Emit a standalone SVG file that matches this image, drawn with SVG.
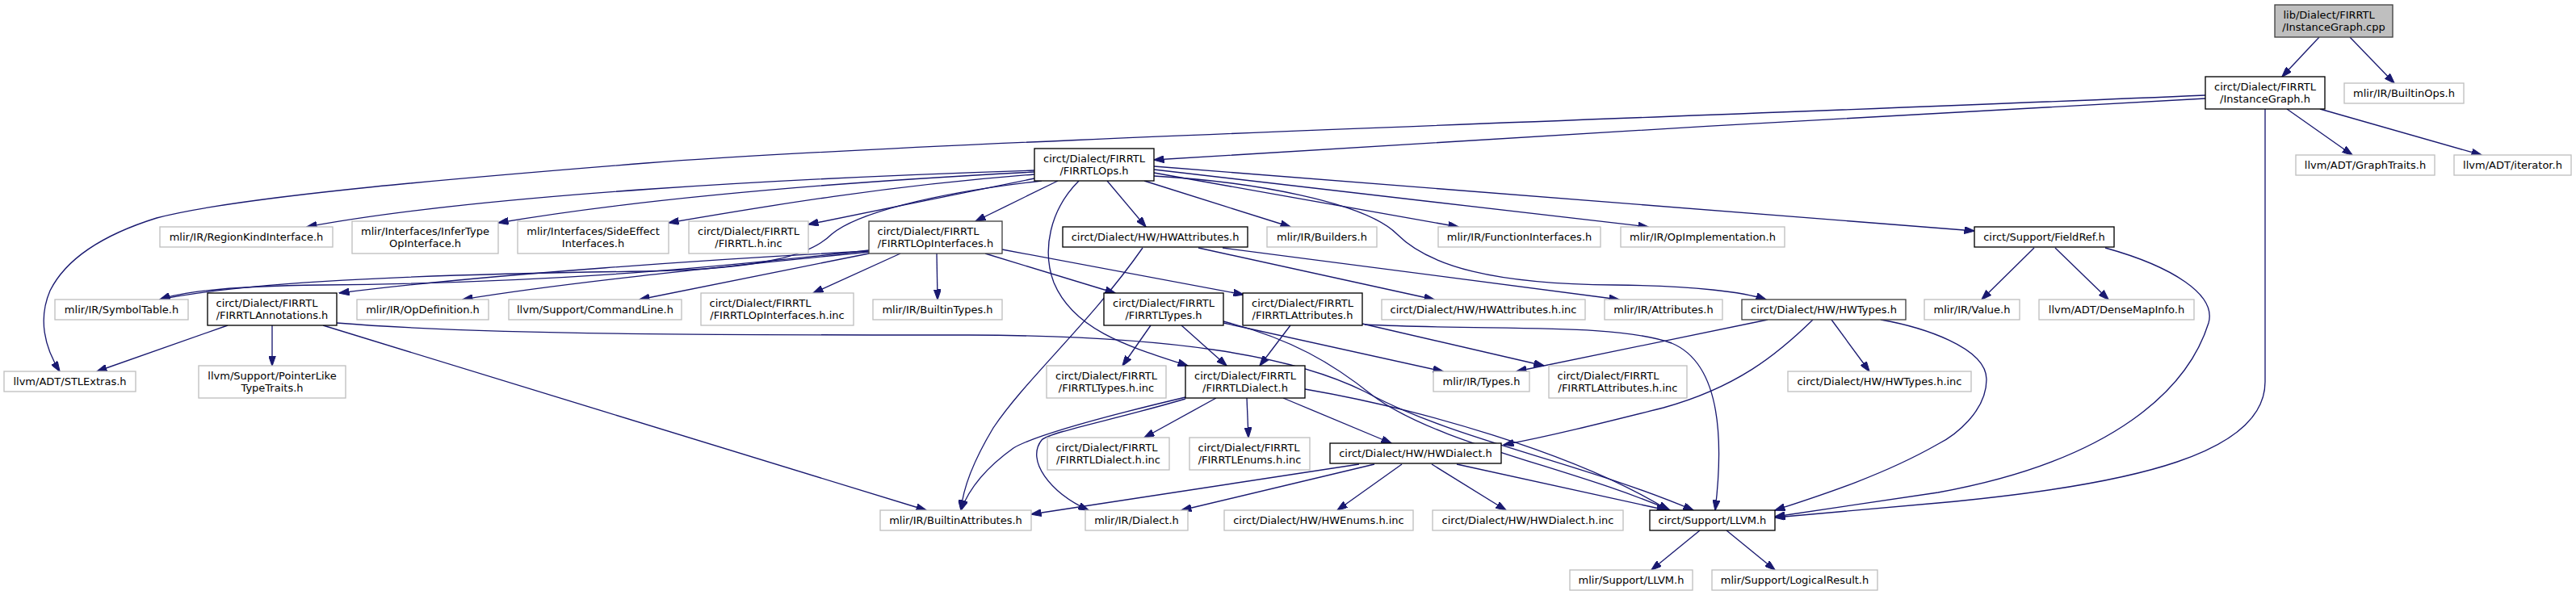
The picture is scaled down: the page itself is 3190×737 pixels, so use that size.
<svg xmlns="http://www.w3.org/2000/svg" width="3190" height="737" viewBox="0 0 3190 737">
<defs>
<style>
rect{stroke-width:1.33}
.g{fill:#fff;stroke:#bfbfbf}
.k{fill:#fff;stroke:#000}
.d{fill:#fff;stroke:#404040}
.r{fill:#bfbfbf;stroke:#404040}
text{font-family:"DejaVu Sans","Liberation Sans",sans-serif;font-size:13px;fill:#000}
.m{text-anchor:middle}
.e path{fill:none;stroke:#191970;stroke-width:1.33;marker-end:url(#a)}
</style>
<marker id="a" viewBox="0 0 13 9" refX="12.5" refY="4.5" markerWidth="13" markerHeight="9" markerUnits="userSpaceOnUse" orient="auto"><path d="M0,0 L13,4.5 L0,9 z" fill="#191970" stroke="#191970" stroke-width="1"/></marker>
</defs>
<rect x="0" y="0" width="3190" height="737" fill="#fff"/>
<g class="e" id="edges">
<path d="M2872,46 L2826,95"/>
<path d="M2910,46 L2965,103"/>
<path d="M2731,122 C2400,139 1700,180 1429,198"/>
<path d="M2731,118 C2100,145 1150,175 800,202 C600,218 300,242 194,270 C130,290 82,320 62,360 C47,395 55,430 74,460"/>
<path d="M2832,135 L2913,192"/>
<path d="M2873,135 L3073,192"/>
<path d="M2805,135 L2805,473 C2805,560 2650,600 2400,623 C2320,630 2250,636 2198,641"/>
<path d="M1281,211 C1000,220 600,240 380,281"/>
<path d="M1281,213 C1050,225 800,245 617,276"/>
<path d="M1281,216 C1100,230 950,255 828,276"/>
<path d="M1281,221 L1001,278"/>
<path d="M1290,224 C1150,240 1060,265 1030,290 C1005,315 950,333 800,336 C500,340 300,350 198,371"/>
<path d="M1310,224 L1208,274"/>
<path d="M1371,224 L1419,281"/>
<path d="M1417,224 L1598,281"/>
<path d="M1429,214 L1806,281"/>
<path d="M1429,210 L2041,281"/>
<path d="M1429,206 L2445,286"/>
<path d="M1429,218 C1550,225 1690,250 1730,290 C1770,330 1850,352 2000,353 C2100,354 2160,362 2187,371"/>
<path d="M1336,224 C1300,260 1290,310 1305,350 C1330,410 1400,430 1471,453"/>
<path d="M1076,310 C900,330 700,350 400,353 C300,354 230,360 198,371"/>
<path d="M1076,311 C900,320 600,340 420,363"/>
<path d="M1076,312 C900,330 700,350 573,371"/>
<path d="M1076,314 L792,371"/>
<path d="M1115,314 L1007,363"/>
<path d="M1160,314 L1161,371"/>
<path d="M1220,314 L1381,363"/>
<path d="M1241,309 L1540,365"/>
<path d="M1415,307 C1350,400 1270,470 1230,530 C1200,580 1192,610 1190,632"/>
<path d="M1484,307 L1776,371"/>
<path d="M1514,307 L2005,371"/>
<path d="M2519,307 L2454,371"/>
<path d="M2545,307 L2611,371"/>
<path d="M2607,307 C2690,330 2745,365 2735,400 C2710,480 2620,570 2400,610 C2320,622 2250,632 2198,640"/>
<path d="M2329,396 C2380,405 2460,430 2460,470 C2460,510 2420,540 2400,550 C2330,590 2250,615 2198,632"/>
<path d="M2189,396 L1878,460"/>
<path d="M2245,396 C2200,440 2150,480 2060,505 C1980,525 1920,540 1862,551"/>
<path d="M2268,396 L2315,460"/>
<path d="M1425,403 L1390,453"/>
<path d="M1463,403 L1519,453"/>
<path d="M1598,403 L1560,453"/>
<path d="M1515,400 L1787,460"/>
<path d="M1687,401 L1912,453"/>
<path d="M1690,402 C1850,410 2000,400 2070,425 C2130,450 2135,540 2124,632"/>
<path d="M1515,398 C1600,420 1650,450 1700,490 C1780,550 1950,580 2068,632"/>
<path d="M417,400 C600,415 900,415 1200,415 C1450,416 1600,440 1690,485 C1800,545 1950,570 2097,632"/>
<path d="M1616,482 C1750,505 1950,560 2066,632"/>
<path d="M1804,575 L2064,632"/>
<path d="M1736,575 L1656,632"/>
<path d="M1773,575 L1865,632"/>
<path d="M1683,575 L1277,637"/>
<path d="M1702,575 L1463,632"/>
<path d="M1468,492 C1350,520 1280,540 1255,555 C1220,580 1200,605 1190,632"/>
<path d="M1468,494 C1380,520 1300,535 1290,545 C1270,570 1300,610 1348,632"/>
<path d="M1506,493 L1417,542"/>
<path d="M1544,493 L1546,542"/>
<path d="M1589,493 L1723,549"/>
<path d="M400,403 L1147,632"/>
<path d="M282,403 L120,460"/>
<path d="M337,403 L337,453"/>
<path d="M2105,657 L2045,706"/>
<path d="M2138,657 L2198,706"/>
</g>
<g id="n0"><rect class="r" x="2817" y="6" width="146" height="40"/><text x="2827.5" y="22.8">lib/Dialect/FIRRTL</text><text class="m" x="2890" y="37.6">/InstanceGraph.cpp</text></g>
<g id="n1"><rect class="k" x="2731" y="95" width="148" height="40"/><text class="m" x="2805" y="111.8">circt/Dialect/FIRRTL</text><text class="m" x="2805" y="126.6">/InstanceGraph.h</text></g>
<g id="n2"><rect class="g" x="2903" y="103" width="148" height="25"/><text class="m" x="2977" y="119.5">mlir/IR/BuiltinOps.h</text></g>
<g id="n3"><rect class="k" x="1281" y="184" width="148" height="40"/><text class="m" x="1355" y="200.8">circt/Dialect/FIRRTL</text><text class="m" x="1355" y="215.6">/FIRRTLOps.h</text></g>
<g id="n4"><rect class="g" x="2843" y="192" width="172" height="25"/><text class="m" x="2929" y="208.5">llvm/ADT/GraphTraits.h</text></g>
<g id="n5"><rect class="g" x="3039" y="192" width="145" height="25"/><text class="m" x="3111.5" y="208.5">llvm/ADT/iterator.h</text></g>
<g id="n6"><rect class="g" x="198" y="281" width="214" height="25"/><text class="m" x="305" y="297.5">mlir/IR/RegionKindInterface.h</text></g>
<g id="n7"><rect class="g" x="436" y="274" width="181" height="40"/><text class="m" x="526.5" y="290.8">mlir/Interfaces/InferType</text><text class="m" x="526.5" y="305.6">OpInterface.h</text></g>
<g id="n8"><rect class="g" x="641" y="274" width="187" height="40"/><text class="m" x="734.5" y="290.8">mlir/Interfaces/SideEffect</text><text class="m" x="734.5" y="305.6">Interfaces.h</text></g>
<g id="n9"><rect class="g" x="853" y="274" width="148" height="40"/><text class="m" x="927" y="290.8">circt/Dialect/FIRRTL</text><text class="m" x="927" y="305.6">/FIRRTL.h.inc</text></g>
<g id="n10"><rect class="d" x="1076" y="274" width="165" height="40"/><text x="1086.5" y="290.8">circt/Dialect/FIRRTL</text><text class="m" x="1158.5" y="305.6">/FIRRTLOpInterfaces.h</text></g>
<g id="n11"><rect class="k" x="1316" y="281" width="229" height="25"/><text class="m" x="1430.5" y="297.5">circt/Dialect/HW/HWAttributes.h</text></g>
<g id="n12"><rect class="g" x="1569" y="281" width="136" height="25"/><text class="m" x="1637" y="297.5">mlir/IR/Builders.h</text></g>
<g id="n13"><rect class="g" x="1781" y="281" width="201" height="25"/><text class="m" x="1881.5" y="297.5">mlir/IR/FunctionInterfaces.h</text></g>
<g id="n14"><rect class="g" x="2007" y="281" width="203" height="25"/><text class="m" x="2108.5" y="297.5">mlir/IR/OpImplementation.h</text></g>
<g id="n15"><rect class="k" x="2445" y="281" width="173" height="25"/><text class="m" x="2531.5" y="297.5">circt/Support/FieldRef.h</text></g>
<g id="n16"><rect class="g" x="68" y="371" width="165" height="25"/><text class="m" x="150.5" y="387.5">mlir/IR/SymbolTable.h</text></g>
<g id="n17"><rect class="k" x="257" y="363" width="160" height="40"/><text x="267.5" y="379.8">circt/Dialect/FIRRTL</text><text class="m" x="337" y="394.6">/FIRRTLAnnotations.h</text></g>
<g id="n18"><rect class="g" x="442" y="371" width="163" height="25"/><text class="m" x="523.5" y="387.5">mlir/IR/OpDefinition.h</text></g>
<g id="n19"><rect class="g" x="630" y="371" width="214" height="25"/><text class="m" x="737" y="387.5">llvm/Support/CommandLine.h</text></g>
<g id="n20"><rect class="g" x="868" y="363" width="189" height="40"/><text x="878.5" y="379.8">circt/Dialect/FIRRTL</text><text class="m" x="962.5" y="394.6">/FIRRTLOpInterfaces.h.inc</text></g>
<g id="n21"><rect class="g" x="1081" y="371" width="160" height="25"/><text class="m" x="1161" y="387.5">mlir/IR/BuiltinTypes.h</text></g>
<g id="n22"><rect class="k" x="1367" y="363" width="148" height="40"/><text class="m" x="1441" y="379.8">circt/Dialect/FIRRTL</text><text class="m" x="1441" y="394.6">/FIRRTLTypes.h</text></g>
<g id="n23"><rect class="k" x="1539" y="363" width="148" height="40"/><text class="m" x="1613" y="379.8">circt/Dialect/FIRRTL</text><text class="m" x="1613" y="394.6">/FIRRTLAttributes.h</text></g>
<g id="n24"><rect class="g" x="1711" y="371" width="252" height="25"/><text class="m" x="1837" y="387.5">circt/Dialect/HW/HWAttributes.h.inc</text></g>
<g id="n25"><rect class="g" x="1987" y="371" width="146" height="25"/><text class="m" x="2060" y="387.5">mlir/IR/Attributes.h</text></g>
<g id="n26"><rect class="d" x="2157" y="371" width="203" height="25"/><text class="m" x="2258.5" y="387.5">circt/Dialect/HW/HWTypes.h</text></g>
<g id="n27"><rect class="g" x="2383" y="371" width="118" height="25"/><text class="m" x="2442" y="387.5">mlir/IR/Value.h</text></g>
<g id="n28"><rect class="g" x="2525" y="371" width="192" height="25"/><text class="m" x="2621" y="387.5">llvm/ADT/DenseMapInfo.h</text></g>
<g id="n29"><rect class="g" x="5" y="460" width="163" height="25"/><text class="m" x="86.5" y="476.5">llvm/ADT/STLExtras.h</text></g>
<g id="n30"><rect class="g" x="246" y="453" width="182" height="40"/><text class="m" x="337" y="469.8">llvm/Support/PointerLike</text><text class="m" x="337" y="484.6">TypeTraits.h</text></g>
<g id="n31"><rect class="g" x="1296" y="453" width="148" height="40"/><text class="m" x="1370" y="469.8">circt/Dialect/FIRRTL</text><text class="m" x="1370" y="484.6">/FIRRTLTypes.h.inc</text></g>
<g id="n32"><rect class="k" x="1468" y="453" width="148" height="40"/><text class="m" x="1542" y="469.8">circt/Dialect/FIRRTL</text><text class="m" x="1542" y="484.6">/FIRRTLDialect.h</text></g>
<g id="n33"><rect class="g" x="1775" y="460" width="119" height="25"/><text class="m" x="1834.5" y="476.5">mlir/IR/Types.h</text></g>
<g id="n34"><rect class="g" x="1918" y="453" width="171" height="40"/><text x="1928.5" y="469.8">circt/Dialect/FIRRTL</text><text class="m" x="2003.5" y="484.6">/FIRRTLAttributes.h.inc</text></g>
<g id="n35"><rect class="g" x="2214" y="460" width="227" height="25"/><text class="m" x="2327.5" y="476.5">circt/Dialect/HW/HWTypes.h.inc</text></g>
<g id="n36"><rect class="g" x="1297" y="542" width="151" height="40"/><text x="1307.5" y="558.8">circt/Dialect/FIRRTL</text><text class="m" x="1372.5" y="573.6">/FIRRTLDialect.h.inc</text></g>
<g id="n37"><rect class="g" x="1473" y="542" width="149" height="40"/><text x="1483.5" y="558.8">circt/Dialect/FIRRTL</text><text class="m" x="1547.5" y="573.6">/FIRRTLEnums.h.inc</text></g>
<g id="n38"><rect class="k" x="1647" y="549" width="212" height="25"/><text class="m" x="1753" y="565.5">circt/Dialect/HW/HWDialect.h</text></g>
<g id="n39"><rect class="g" x="1090" y="632" width="187" height="25"/><text class="m" x="1183.5" y="648.5">mlir/IR/BuiltinAttributes.h</text></g>
<g id="n40"><rect class="g" x="1344" y="632" width="127" height="25"/><text class="m" x="1407.5" y="648.5">mlir/IR/Dialect.h</text></g>
<g id="n41"><rect class="g" x="1516" y="632" width="234" height="25"/><text class="m" x="1633" y="648.5">circt/Dialect/HW/HWEnums.h.inc</text></g>
<g id="n42"><rect class="g" x="1774" y="632" width="236" height="25"/><text class="m" x="1892" y="648.5">circt/Dialect/HW/HWDialect.h.inc</text></g>
<g id="n43"><rect class="k" x="2043" y="632" width="155" height="25"/><text class="m" x="2120.5" y="648.5">circt/Support/LLVM.h</text></g>
<g id="n44"><rect class="g" x="1944" y="706" width="152" height="25"/><text class="m" x="2020" y="722.5">mlir/Support/LLVM.h</text></g>
<g id="n45"><rect class="g" x="2120" y="706" width="205" height="25"/><text class="m" x="2222.5" y="722.5">mlir/Support/LogicalResult.h</text></g>
</svg>
